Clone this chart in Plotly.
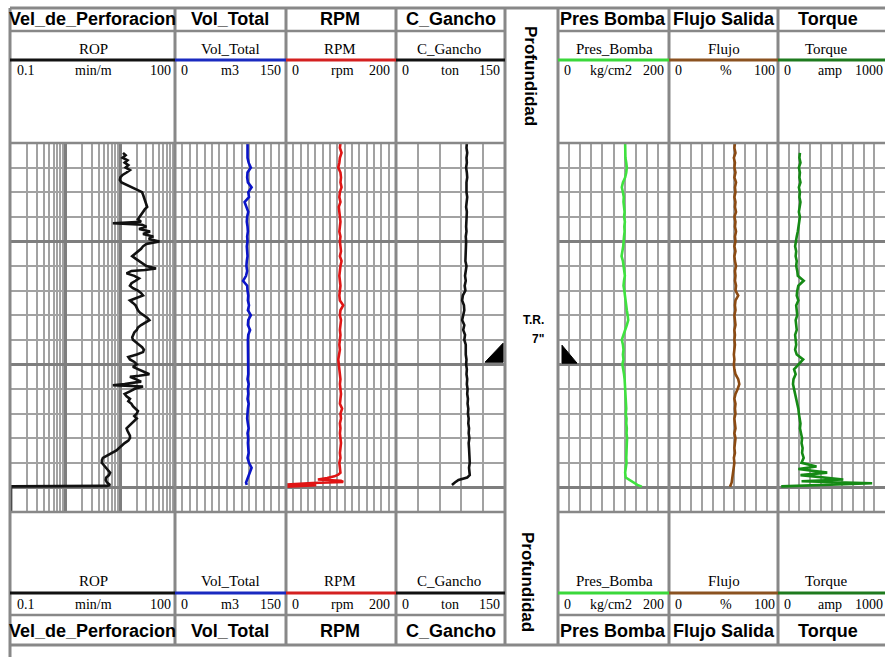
import plotly.graph_objects as go

W, H = 885, 657


def fx(x):
    return x / W


def fy(y):
    return 1 - y / H


# ---------------- data ----------------
TITLES = ["Vel_de_Perforacion", "Vol_Total", "RPM", "C_Gancho", "Pres Bomba", "Flujo Salida", "Torque"]
CURVE_NAMES = ["ROP", "Vol_Total", "RPM", "C_Gancho", "Pres_Bomba", "Flujo", "Torque"]
UNITS = ["min/m", "m3", "rpm", "ton", "kg/cm2", "%", "amp"]
SCALE_MIN = ["0.1", "0", "0", "0", "0", "0", "0"]
SCALE_MAX = ["100", "150", "200", "150", "200", "100", "1000"]
DEPTH_TITLE = "Profundidad"
CASING_LABEL = ["T.R.", "7\""]
CASING_DEPTH = 2050

ROP_DEPTH = [1964, 1965, 1966, 1967, 1968, 1969, 1970, 1971, 1972, 1973, 1974, 1975, 1976, 1977, 1978, 1979,
             1980, 1981, 1982, 1983, 1984, 1985, 1986, 1987, 1988, 1989, 1990, 1991, 1992, 1992.6, 1993.2, 1994,
             1995, 1996, 1997, 1998, 1999, 2000, 2001, 2002, 2003, 2004, 2005, 2006, 2007, 2008, 2009, 2010,
             2011, 2011.6, 2012, 2013, 2014, 2015, 2016, 2017, 2018, 2019, 2020, 2021, 2022, 2023, 2024, 2025,
             2026, 2027, 2028, 2029, 2030, 2031, 2032, 2033, 2034, 2035, 2036, 2037, 2038, 2039, 2040, 2041,
             2042, 2043, 2044, 2045, 2046, 2047, 2048, 2049, 2050, 2051, 2052, 2053, 2054, 2054.6, 2055, 2056,
             2057, 2058, 2058.5, 2059, 2060, 2061, 2062, 2063, 2064, 2065, 2066, 2067, 2068, 2069, 2070, 2071,
             2072, 2073, 2074, 2075, 2076, 2077, 2078, 2079, 2080, 2081, 2082, 2083, 2084, 2085, 2086, 2087,
             2088, 2089, 2090, 2091, 2092, 2093, 2094, 2095, 2096, 2097, 2098, 2099, 2099.4, 2099.6, 2110]
ROP_VAL = [11.2, 12.5, 11.0, 13.5, 12.0, 14.0, 12.5, 15.0, 13.0, 11.0, 10.0, 9.8, 10.5, 13.0, 17.0, 21.0,
           25.0, 26.0, 27.0, 28.0, 29.0, 30.0, 31.0, 28.0, 26.0, 24.0, 22.0, 21.0, 24.0, 7.3, 25.0, 30.0,
           22.0, 35.0, 26.0, 40.0, 33.0, 52.0, 30.0, 26.0, 24.0, 21.0, 18.0, 16.5, 19.0, 22.0, 25.0, 30.0,
           45.0, 28.0, 16.0, 13.0, 18.0, 22.0, 19.0, 16.0, 15.0, 17.0, 21.0, 24.0, 26.0, 20.0, 15.0, 17.0,
           19.0, 20.0, 21.0, 23.0, 27.0, 31.0, 34.0, 28.0, 24.0, 21.0, 20.0, 18.0, 17.0, 16.5, 17.0, 19.0,
           22.0, 25.0, 27.0, 26.0, 20.0, 14.0, 15.0, 18.0, 20.0, 17.0, 21.0, 26.0, 34.0, 22.0, 15.0, 19.0,
           24.0, 12.0, 7.3, 26.0, 18.0, 15.0, 12.0, 13.0, 15.0, 14.0, 16.0, 17.0, 19.0, 21.0, 20.0, 18.0,
           20.0, 18.0, 16.0, 14.5, 13.0, 13.5, 14.0, 15.0, 15.0, 14.0, 12.0, 10.5, 9.5, 8.5, 7.0, 5.6,
           4.8, 4.6, 4.6, 5.0, 5.5, 6.0, 6.5, 6.2, 5.5, 5.4, 5.7, 6.5, 5.7, 0.1, 0.1]

VOL_DEPTH = list(range(1960, 2100, 2)) + [2099]
VOL_VAL = [98, 98, 98.5, 98, 99.5, 102.5, 98, 97.5, 98.5, 103.5,
           99, 100, 94, 97, 99, 97.5, 97, 98, 98.5, 97.5,
           98, 97, 97.5, 98, 97, 96.5, 97.5, 96, 92, 97.5,
           98, 99, 98.5, 100, 98.5, 102.5, 99, 98.5, 101.5, 99,
           98.5, 98.5, 99, 98.5, 99, 98.5, 99.5, 99, 98, 99.5,
           98.5, 99, 98, 99.5, 98.5, 98, 97.5, 98.5, 99.5, 98,
           99, 98.5, 99, 99.5, 98, 100, 103.5, 101, 99, 96,
           97]

RPM_DEPTH = list(range(1960, 2096, 2)) + [2094.8, 2095.5, 2096.2, 2096.8, 2097.3, 2097.8, 2098.2, 2098.5,
                                          2098.8, 2099.1, 2099.4, 2099.7]
RPM_VAL = [99, 98, 101, 98, 97, 95, 99, 100, 99, 101,
           98, 97, 99, 96, 97, 98, 99, 98, 97, 99,
           98, 99, 100, 98, 101, 99, 98, 97, 98, 99,
           98, 97, 98, 104, 99, 98, 100, 99, 98, 99,
           98, 97, 98, 97, 95, 96, 97, 98, 99, 98,
           99, 100, 99, 98, 102, 99, 100, 98, 99, 98,
           99, 100, 99, 98, 99, 97, 98, 99,
           95, 88, 75, 58, 100, 104, 48, 22, 1, 55, 8, 0]

GANCHO_DEPTH = list(range(1960, 2096, 2)) + [2095, 2096, 2097, 2098, 2099]
GANCHO_VAL = [97.5, 97, 98, 97, 97.5, 96.5, 97.5, 98, 97, 96.5,
              97, 98, 97, 96.5, 97.5, 97, 96, 96.5, 97, 96,
              96.5, 96, 95.5, 96, 95.5, 97, 96, 95, 96, 94.5,
              95.5, 92, 91, 93.5, 94, 93, 91, 94, 92.5, 95,
              94, 96, 95.5, 96, 97, 96.5, 97.5, 97, 98, 97.5,
              98.5, 98, 99, 98.5, 99.5, 99, 100, 99.5, 100.5, 100,
              101, 100, 100.5, 101, 100.5, 101.5, 100.5, 101,
              101.5, 98, 86, 81, 77]

PRES_DEPTH = list(range(1960, 2096, 2)) + [2096, 2097.5, 2099, 2099.7]
PRES_VAL = [121, 121, 120.5, 121.5, 123, 124, 123, 121, 117, 115,
            117, 118.5, 118, 119.5, 120, 119, 120.5, 119.5, 120, 119,
            118.5, 117.5, 116, 114.5, 117, 118.5, 119, 120.5, 119, 118,
            119.5, 120.5, 121, 122.5, 124, 125.5, 126.5, 124, 121, 118,
            115, 117, 118, 117, 118, 116, 118, 119, 120, 120.5,
            121, 122, 121.5, 122.5, 123, 122, 123.5, 123, 124, 123.5,
            124.5, 124, 123.5, 124, 123, 123.5, 122, 121,
            122, 132, 143, 151]

FLUJO_DEPTH = list(range(1960, 2100, 2)) + [2099.7]
FLUJO_VAL = [60.5, 60, 61, 59.5, 60.5, 60, 61, 60, 61.5, 60.5,
             61, 60, 61, 60.5, 61.5, 60, 61, 60.5, 61.5, 60.5,
             61, 60, 61, 60, 60.5, 61.5, 60.5, 61, 60.5, 61.5,
             61, 63.5, 61, 60.5, 61, 60, 60.5, 61, 60, 60.5,
             60, 60.5, 60, 59.5, 60, 59.5, 60, 61, 63.5, 64.5,
             63, 61, 60, 61, 60.5, 61, 60, 60.5, 61, 60,
             61, 60.5, 60, 60.5, 59.5, 60, 59.5, 59, 58.5, 57.5,
             56]

TORQUE_DEPTH = list(range(1964, 2092, 2)) + [2091.5, 2092.5, 2094, 2095, 2096.8, 2097.5, 2098.3, 2099.6]
TORQUE_VAL = [205, 200, 210, 195, 205, 200, 210, 195, 205, 200,
              210, 200, 195, 205, 200, 190, 185, 175, 165, 160,
              170, 165, 175, 170, 180, 185, 240, 190, 180, 175,
              190, 170, 175, 180, 165, 170, 175, 160, 165, 170,
              160, 175, 235, 190, 150, 165, 145, 140, 150, 165,
              175, 180, 190, 195, 200, 210, 205, 215, 225, 220,
              230, 225, 240, 220,
              360, 190, 460, 210, 610, 220, 880, 30]

SERIES_DEPTH = [ROP_DEPTH, VOL_DEPTH, RPM_DEPTH, GANCHO_DEPTH, PRES_DEPTH, FLUJO_DEPTH, TORQUE_DEPTH]
SERIES_VAL = [ROP_VAL, VOL_VAL, RPM_VAL, GANCHO_VAL, PRES_VAL, FLUJO_VAL, TORQUE_VAL]

# ---------------- styling / layout ----------------
CURVE_COLORS = ["#111111", "#0a14c8", "#e01414", "#111111", "#3fe23f", "#8b4a12", "#158a15"]
HEAD_COLORS = ["#111111", "#1a2ac0", "#d42020", "#111111", "#3ad83a", "#8b5220", "#1e7a1e"]
AX_TYPE = ["log", "linear", "linear", "linear", "linear", "linear", "linear"]
AX_RANGE = [[-1, 2], [0, 150], [0, 200], [0, 150], [0, 200], [0, 100], [0, 1000]]
AX_DTICK = [1, 10, 200 / 15, 30, 20, 10, 100]
TRACK_L = [11, 175, 286, 396, 558, 669, 778]
TRACK_R = [175, 286, 396, 505, 669, 778, 885]
TITLE_CX = [92.5, 230, 340, 451, 612.5, 724, 828]
NAME_CX = [93, 230, 340, 449, 614, 724, 826]
UNIT_CX = [93, 230, 342, 450, 611, 726, 830]
MIN_LX = [15, 179, 290, 400, 562, 673, 782]
MAX_RX = [173, 283, 392, 502, 666, 777, 885]
GRID_TOP, GRID_BOT = 143, 512
DEPTH_TOP, DEPTH_BOT = 1960, 2110

GRID_C = "#a2a2a2"
THICK_C = "#7e7e7e"
BORDER_C = "#888888"

SANS = "Liberation Sans, Arial, sans-serif"
SERIF = "Liberation Serif, Times New Roman, serif"

fig = go.Figure()
layout = dict(
    width=W, height=H, autosize=False,
    margin=dict(l=0, r=0, t=0, b=0, pad=0),
    paper_bgcolor="white", plot_bgcolor="white",
    showlegend=False,
)

for i in range(7):
    sfx = "" if i == 0 else str(i + 1)
    fig.add_trace(go.Scatter(
        x=SERIES_VAL[i], y=SERIES_DEPTH[i], mode="lines",
        line=dict(color=CURVE_COLORS[i], width=2.6),
        xaxis="x" + sfx, yaxis="y" + sfx, hoverinfo="skip",
    ))
    xa = dict(
        domain=[fx(TRACK_L[i]), fx(TRACK_R[i])], type=AX_TYPE[i], range=AX_RANGE[i],
        anchor="y" + sfx, dtick=AX_DTICK[i], showgrid=True, gridcolor=GRID_C, gridwidth=1.5,
        showticklabels=False, ticks="", zeroline=False, showline=False, fixedrange=True,
    )
    if i == 0:
        xa["gridcolor"] = THICK_C
        xa["gridwidth"] = 2.5
        xa["minor"] = dict(dtick="D1", showgrid=True, gridcolor=GRID_C, gridwidth=1.5, ticks="")
    layout["xaxis" + sfx] = xa
    ya = dict(
        domain=[fy(GRID_BOT), fy(GRID_TOP)], range=[DEPTH_BOT, DEPTH_TOP], anchor="x" + sfx,
        dtick=50, tick0=2000, showgrid=True, gridcolor=THICK_C, gridwidth=3,
        minor=dict(dtick=10, tick0=1960, showgrid=True, gridcolor=GRID_C, gridwidth=1.5, ticks=""),
        showticklabels=False, ticks="", zeroline=False, showline=False, fixedrange=True,
    )
    if i > 0:
        ya["matches"] = "y"
    layout["yaxis" + sfx] = ya

fig.update_layout(**layout)

shapes = []


def pline(x0, y0, x1, y1, color=BORDER_C, width=3):
    shapes.append(dict(type="line", xref="paper", yref="paper", x0=fx(x0), y0=fy(y0), x1=fx(x1), y1=fy(y1),
                       line=dict(color=color, width=width), layer="above"))


# track borders
for xb in [175, 286, 396, 505, 558, 669, 778]:
    pline(xb, 8, xb, 645)
pline(10, 8, 10, 657)
# horizontal frame lines
pline(10, 8, 885, 8)
pline(10, 645, 885, 645)
for yb in [31, GRID_TOP, GRID_BOT, 615]:
    pline(10, yb, 505, yb, width=2.5)
    pline(558, yb, 885, yb, width=2.5)

# coloured curve-header lines
for i in range(7):
    for yc in (60, 593):
        pline(TRACK_L[i] - (1 if i == 0 else 0), yc, TRACK_R[i], yc, color=HEAD_COLORS[i], width=3)

# casing shoe triangles (depth via the y axis)
shapes.append(dict(type="path", xref="paper", yref="y",
                   path=f"M {fx(485)},{CASING_DEPTH - 0.9} L {fx(503)},{CASING_DEPTH - 8.6} L {fx(503)},{CASING_DEPTH - 0.9} Z",
                   fillcolor="black", line=dict(color="black", width=1), layer="above"))
shapes.append(dict(type="path", xref="paper", yref="y",
                   path=f"M {fx(562)},{CASING_DEPTH - 7.8} L {fx(562)},{CASING_DEPTH - 0.5} L {fx(577)},{CASING_DEPTH - 0.5} Z",
                   fillcolor="black", line=dict(color="black", width=1), layer="above"))

annotations = []


def text(x, y, s, font, anchor="center", angle=0):
    annotations.append(dict(x=fx(x), y=fy(y), xref="paper", yref="paper", text=s, showarrow=False,
                            xanchor=anchor, yanchor="middle", font=font, textangle=angle))


title_font = dict(family=SANS, size=18, color="black", weight="bold")
name_font = dict(family=SERIF, size=15, color="black")
scale_font = dict(family=SERIF, size=14, color="black")

for i in range(7):
    for yt in (19.5, 631):
        text(TITLE_CX[i], yt, TITLES[i], title_font)
    for yn in (49, 581):
        text(NAME_CX[i], yn, CURVE_NAMES[i], name_font)
    for ys in (71, 604):
        text(MIN_LX[i], ys, SCALE_MIN[i], scale_font, anchor="left")
        text(UNIT_CX[i], ys, UNITS[i], scale_font)
        text(MAX_RX[i], ys, SCALE_MAX[i], scale_font, anchor="right")

prof_font = dict(family=SANS, size=17, color="black", weight="bold")
text(531, 76, DEPTH_TITLE, prof_font, angle=90)
text(528, 582, DEPTH_TITLE, prof_font, angle=90)

tr_font = dict(family=SANS, size=12, color="black", weight="bold")
text(533, 320, CASING_LABEL[0], tr_font)
text(538, 339, CASING_LABEL[1], tr_font)

fig.update_layout(shapes=shapes, annotations=annotations)
fig.write_html("out.html")
